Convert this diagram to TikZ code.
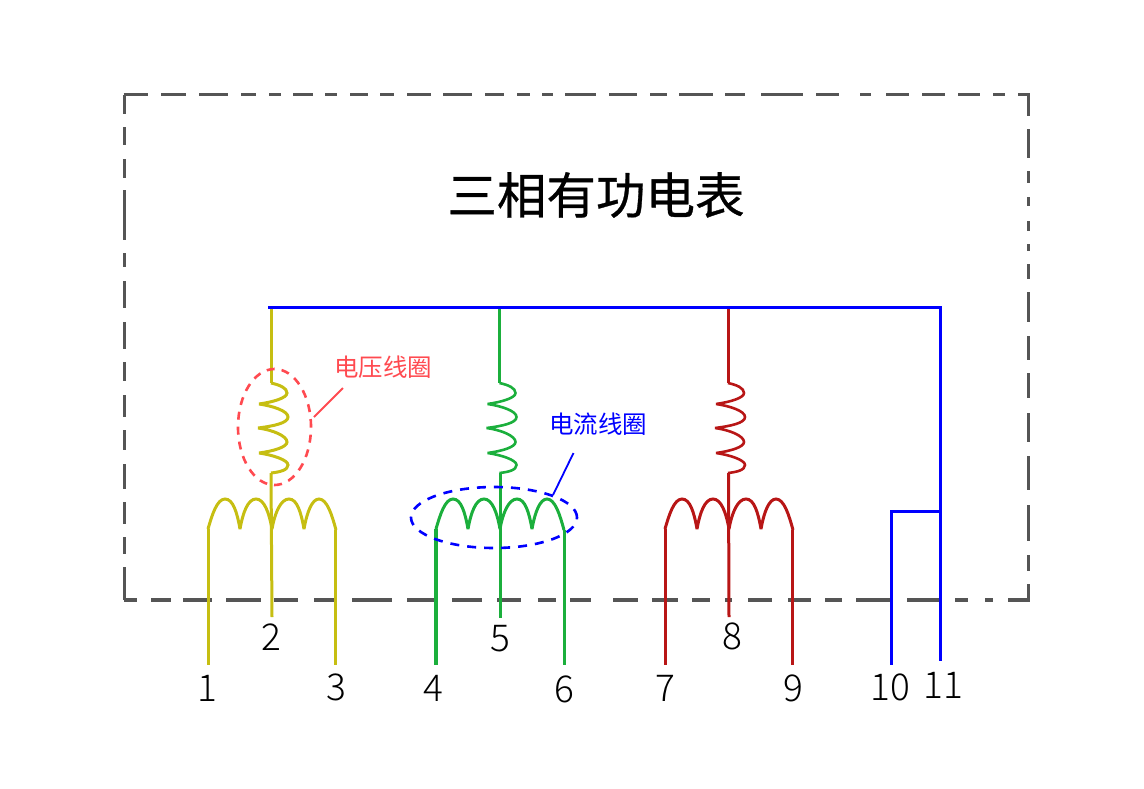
\documentclass[tikz,border=0pt]{standalone}
\usepackage{fontspec}
\usetikzlibrary{shapes.geometric}
\setmainfont{Noto Sans CJK SC}
\newfontfamily\pinfont{Noto Sans CJK SC Light}
\newfontfamily\titlefont[FakeBold=0.6]{Noto Sans CJK SC}
\definecolor{frameg}{HTML}{555555}
\definecolor{yel}{HTML}{C6BE12}
\definecolor{grn}{HTML}{1BAF3C}
\definecolor{drd}{HTML}{B81616}
\definecolor{blu}{HTML}{0000FF}
\definecolor{redn}{HTML}{FF4A50}
\tikzset{
  framedash/.style={draw=frameg,line width=3.2pt},
  wire/.style={line width=3pt},
  buswire/.style={blu,line width=3pt},
  coilline/.style={line width=3pt,line join=miter,miter limit=4},
  springline/.style={line width=2.6pt,line join=miter,miter limit=3},
  pin/.style={inner sep=0pt,font=\pinfont\fontsize{37}{37}\selectfont},
  note/.style={inner sep=0pt,font=\fontsize{24.5}{25}\selectfont},
  ringr/.style={draw=redn,dashed,line width=2.6pt,dash pattern=on 8pt off 7pt},
  ringb/.style={draw=blu,dashed,line width=2.6pt,dash pattern=on 9pt off 8pt},
  leader/.style={line width=1.8pt},
}
\newcommand{\coilbumps}{
  (-64,529) .. controls (-60,515) and (-55,499) .. (-47,499)
  .. controls (-39,499) and (-35,512) .. (-32,529)
  .. controls (-29,512) and (-24,499) .. (-16,499)
  .. controls (-8,499) and (-3,512) .. (0,529)
  .. controls (3,512) and (9,499) .. (17,499)
  .. controls (25,499) and (29,512) .. (32,529)
  .. controls (35,512) and (40,499) .. (47,499)
  .. controls (55,499) and (60,515) .. (64,530)
}
\newcommand{\springpath}{
  (0,383) .. controls (9,385) and (16,388) .. (16,393)
  .. controls (16,398) and (2,402) .. (-12,404)
  .. controls (2,406) and (17,411) .. (17,417)
  .. controls (17,423) and (3,426) .. (-13,428)
  .. controls (2,430) and (16,436) .. (16,442)
  .. controls (16,447) and (3,451) .. (-12,453)
  .. controls (2,455) and (17,460) .. (17,465)
  .. controls (17,470) and (9,472) .. (0,473)
}
\begin{document}
\begin{tikzpicture}[x=1pt,y=-1pt]
\useasboundingbox (0,0) rectangle (1144,788);
% frame dashes
\foreach \a/\b in {123.5/148,161/186,199/228,241/256,269/281,293/313,325/337,350/368,380/394,407/431,443/472,485/504,517/530,542/553,565/596,609/637,650/667,679/713,725/745,761/803,816/839,860/871,886/909,922/945,958/980,993/1005,1018/1030}
  \draw[framedash] (\a,94.5) -- (\b,94.5);
\foreach \a/\b in {123.5/137,151/171,183/212,226/261,274/298,314/337,352/392,407/438,452/482,497/521,538/556,570/591,613/638,652/678,692/710,725/732,748/772,788/811,825/842,856/892,907/940,955/968,985/993,1008/1030}
  \draw[framedash] (\a,600) -- (\b,600);
\foreach \a/\b in {95/114,127/145,159/178,190/240,253/267,281/308,322/349,362/381,395/417,430/450,464/489,502/524,537/554,567/600}
  \draw[framedash] (124.5,\a) -- (124.5,\b);
\foreach \a/\b in {95/116,129/158,171/183,197/206,221/231,244/251,264/279,292/322,336/360,373/398,413/442,456/490,505/541,555/571,584/600}
  \draw[framedash] (1028.5,\a) -- (1028.5,\b);
% title
\node[inner sep=0pt,font=\titlefont\fontsize{49.5}{50}\selectfont] (title) at (596,195) {三相有功电表};
% named wire points
\coordinate (busL) at (268,307);
\coordinate (busR) at (942,307);
\coordinate (yTop) at (271,307);
\coordinate (ySpT) at (271,383);
\coordinate (ySpB) at (271,473);
\coordinate (yEnd) at (272,617);
\coordinate (y1A) at (208,529);
\coordinate (y1B) at (208,665);
\coordinate (y3A) at (335.5,530);
\coordinate (y3B) at (335.5,665);
\coordinate (gTop) at (499.5,307);
\coordinate (gSpT) at (499.5,383);
\coordinate (gSpB) at (500,473);
\coordinate (gEnd) at (500,618);
\coordinate (g4A) at (436,529);
\coordinate (g4B) at (436,665);
\coordinate (g6A) at (564,530);
\coordinate (g6B) at (564,665);
\coordinate (rTop) at (728,307);
\coordinate (rSpT) at (728,383);
\coordinate (rSpB) at (728.5,473);
\coordinate (rEnd) at (729,617);
\coordinate (r7A) at (665,529);
\coordinate (r7B) at (665,665);
\coordinate (r9A) at (792.5,530);
\coordinate (r9B) at (792.5,665);
\coordinate (b11A) at (940,307);
\coordinate (b11B) at (940,661);
\coordinate (b10T) at (891,511);
\coordinate (b10J) at (940,511);
\coordinate (b10B) at (891,665);
% yellow
\draw[wire,yel] (yTop) -- (ySpT);
\draw[wire,yel] (ySpB) -- (yEnd);
\draw[wire,yel] (y1A) -- (y1B);
\draw[wire,yel] (y3A) -- (y3B);
\begin{scope}[shift={(272,0)}]\draw[coilline,yel] \coilbumps;\end{scope}
\begin{scope}[shift={(271,0)}]\draw[springline,yel,line width=3pt] \springpath;\end{scope}
% green
\draw[wire,grn] (gTop) -- (gSpT);
\draw[wire,grn] (gSpB) -- (gEnd);
\draw[wire,grn,line width=3.4pt] (g4A) -- (g4B);
\draw[wire,grn] (g6A) -- (g6B);
\begin{scope}[shift={(500,0)}]\draw[coilline,grn] \coilbumps;\end{scope}
\begin{scope}[shift={(499.5,0)}]\draw[springline,grn] \springpath;\end{scope}
% red
\draw[wire,drd] (rTop) -- (rSpT);
\draw[wire,drd] (rSpB) -- (rEnd);
\draw[wire,drd] (r7A) -- (r7B);
\draw[wire,drd] (r9A) -- (r9B);
\begin{scope}[shift={(729,0)}]\draw[coilline,drd] \coilbumps;\end{scope}
\begin{scope}[shift={(728,0)}]\draw[springline,drd] \springpath;\end{scope}
% blue
\draw[buswire] (busL) -- (busR);
\draw[buswire] (b11A) -- (b11B);
\draw[buswire] (b10J) -- (b10T) -- (b10B);
% rings
\node[ringr,ellipse,minimum width=73pt,minimum height=116pt,inner sep=0pt] (ringV) at (274.5,427) {};
\node[ringb,ellipse,minimum width=166pt,minimum height=61pt,inner sep=0pt] (ringI) at (494,517.5) {};
% notes
\node[note,text=redn] (noteV) at (383,367) {电压线圈};
\node[note,text=blu] (noteI) at (598,424) {电流线圈};
\coordinate (ldVa) at (343,388);
\coordinate (ldVb) at (314,417);
\coordinate (ldIa) at (573.5,453);
\coordinate (ldIb) at (553,495);
\draw[leader,redn] (ldVa) -- (ldVb);
\draw[leader,blu] (ldIa) -- (ldIb);
% pins
\node[pin] (p1) at (207.5,688) {1};
\node[pin] (p2) at (271,637) {2};
\node[pin] (p3) at (336,687) {3};
\node[pin] (p4) at (433.5,688) {4};
\node[pin] (p5) at (500,639) {5};
\node[pin] (p6) at (564,689) {6};
\node[pin] (p7) at (665,688) {7};
\node[pin] (p8) at (732,636) {8};
\node[pin] (p9) at (793,688) {9};
\node[pin] (p10) at (890,687) {10};
\node[pin] (p11) at (943.5,685) {11};
\end{tikzpicture}
\end{document}
